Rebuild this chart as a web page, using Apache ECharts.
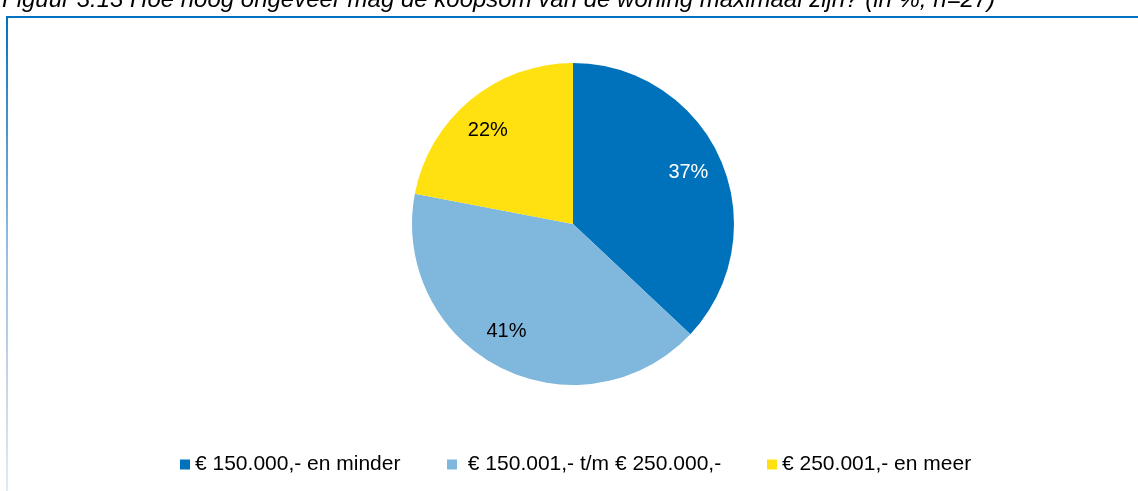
<!DOCTYPE html>
<html>
<head>
<meta charset="utf-8">
<script src="https://cdn.jsdelivr.net/npm/echarts@6/dist/echarts.min.js"></script>
<style>
  html, body { margin: 0; padding: 0; background: #fff; }
  #chart { width: 1138px; height: 491px; }
</style>
</head>
<body>
<div id="chart"></div>
<script>
const titleText = 'Figuur 3.13 Hoe hoog ongeveer mag de koopsom van de woning maximaal zijn? (in %, n=27)';
const categories = ['€ 150.000,- en minder', '€ 150.001,- t/m € 250.000,-', '€ 250.001,- en meer'];
const shares = [37, 41, 22];
const colors = ['#0071BB', '#80B7DD', '#FFE011'];
const labelColors = ['#ffffff', '#000000', '#000000'];
// small nudges so the labels sit where Excel put them
const labelOffsets = [[-3, 0], [-8, -7], [-3, 6]];

const font = 'Liberation Sans, Arial, sans-serif';

const pieData = categories.map((name, i) => ({
  name,
  value: shares[i],
  itemStyle: { color: colors[i] },
}));

const labelData = categories.map((name, i) => ({
  name,
  value: shares[i],
  label: { color: labelColors[i], offset: labelOffsets[i] },
}));

const legendLeft = [180, 447, 767];

const myChart = echarts.init(document.getElementById('chart'));
const options = {
  animation: false,
  title: {
    text: titleText,
    left: 2,
    top: -12,
    padding: 0,
    textStyle: {
      fontFamily: font,
      fontStyle: 'italic',
      fontWeight: 'normal',
      fontSize: 24,
      color: '#000',
    },
  },
  graphic: [
    { type: 'rect', shape: { x: 6, y: 16, width: 1132, height: 2 }, style: { fill: '#0070C0' } },
    {
      type: 'rect',
      shape: { x: 6, y: 16, width: 2, height: 475 },
      style: {
        fill: {
          type: 'linear', x: 0, y: 0, x2: 0, y2: 1,
          colorStops: [
            { offset: 0, color: '#0070C0' },
            { offset: 0.5, color: '#9CBEE0' },
            { offset: 1, color: '#E3EAF4' },
          ],
        },
      },
    },
  ],
  legend: categories.map((name, i) => ({
    data: [name],
    left: legendLeft[i],
    top: 454,
    padding: 0,
    icon: 'rect',
    itemWidth: 10,
    itemHeight: 10,
    formatter: i === 1 ? ' {name}' : '{name}',
    textStyle: { fontFamily: font, fontSize: 21, color: '#000' },
    selectedMode: false,
  })),
  series: [{
    type: 'pie',
    center: [573, 224],
    radius: [0, 161],
    startAngle: 90,
    clockwise: true,
    data: pieData,
    label: { show: false },
    labelLine: { show: false },
    itemStyle: { borderWidth: 0 },
    emphasis: { disabled: true },
  }, {
    type: 'pie',
    center: [573, 224],
    radius: [91, 161],
    startAngle: 90,
    clockwise: true,
    silent: true,
    data: labelData,
    itemStyle: { color: 'transparent', borderWidth: 0 },
    label: {
      show: true,
      position: 'inside',
      formatter: '{c}%',
      fontFamily: font,
      fontSize: 20,
    },
    labelLine: { show: false },
    emphasis: { disabled: true },
  }],
};
myChart.setOption(options);
</script>
</body>
</html>
